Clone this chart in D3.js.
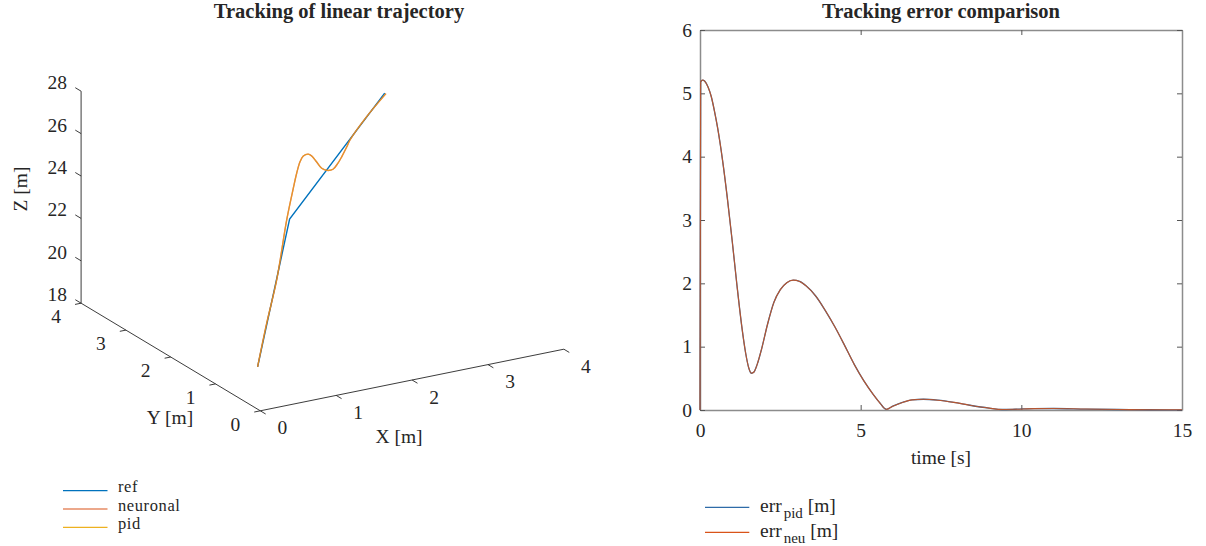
<!DOCTYPE html>
<html>
<head>
<meta charset="utf-8">
<script src="https://cdn.jsdelivr.net/npm/d3@7"></script>
<style>
  html,body{margin:0;padding:0;background:#fff;}
  svg{display:block;}
  text{font-family:"Liberation Serif","DejaVu Serif",serif;fill:#262626;}
</style>
</head>
<body>
<svg id="chart" width="1206" height="546"></svg>
<script>
// ---------------- DATA ----------------
// 3D trajectory (left panel)
const refX = [0, 1, 4];
const refY = [0.06, 1.04, 4];
const refZ = [20, 25, 25];

const neuX = [0, 0.206, 0.527, 0.849, 1.061, 1.17, 1.277, 1.383, 1.543, 1.653, 1.813, 1.974, 2.145, 2.338, 2.498, 2.617, 2.778, 2.884, 3.421, 4.04];
const neuY = [0.06, 0.206, 0.527, 0.849, 1.061, 1.17, 1.277, 1.383, 1.543, 1.653, 1.813, 1.974, 2.145, 2.338, 2.498, 2.617, 2.778, 2.884, 3.421, 4.04];
const neuZ = [20, 21.72, 23.12, 25.31, 26.38, 26.87, 27.2, 27.26, 27.03, 26.72, 26.12, 25.5, 25.06, 24.73, 24.70, 24.76, 24.9, 25.02, 25.05, 24.9];

const pidX = [0, 0.206, 0.527, 0.849, 1.061, 1.17, 1.277, 1.383, 1.543, 1.653, 1.813, 1.974, 2.145, 2.338, 2.498, 2.617, 2.778, 2.884, 3.421, 4.04];
const pidY = [0.06, 0.206, 0.527, 0.849, 1.061, 1.17, 1.277, 1.383, 1.543, 1.653, 1.813, 1.974, 2.145, 2.338, 2.498, 2.617, 2.778, 2.884, 3.421, 4.04];
const pidZ = [20, 21.72, 23.12, 25.31, 26.38, 26.87, 27.2, 27.26, 27.03, 26.72, 26.12, 25.5, 25.06, 24.73, 24.70, 24.76, 24.9, 25.02, 25.05, 24.9];

const xTicks3d = [0, 1, 2, 3, 4];
const yTicks3d = [0, 1, 2, 3, 4];
const zTicks3d = [18, 20, 22, 24, 26, 28];

// Tracking error (right panel)
const time   = [0, 0.02, 0.08, 0.15, 0.25, 0.35, 0.45, 0.55, 0.7, 0.85, 1.0, 1.15, 1.3, 1.42, 1.52, 1.6, 1.68, 1.78, 1.92, 2.1, 2.3, 2.5, 2.7, 2.9, 3.1, 3.3, 3.6, 3.9, 4.2, 4.5, 4.8, 5.1, 5.4, 5.6, 5.8, 6.0, 6.3, 6.6, 6.95, 7.4, 7.9, 8.4, 9.0, 9.4, 9.8, 10.4, 11.0, 12.0, 13.0, 14.0, 15.0];
const errPid = [0, 5.18, 5.21, 5.19, 5.10, 4.95, 4.72, 4.45, 3.95, 3.35, 2.68, 1.97, 1.32, 0.90, 0.66, 0.58, 0.60, 0.72, 0.97, 1.35, 1.70, 1.90, 2.01, 2.05, 2.03, 1.96, 1.80, 1.57, 1.31, 1.02, 0.72, 0.46, 0.24, 0.11, 0.01, 0.06, 0.12, 0.16, 0.17, 0.155, 0.12, 0.075, 0.03, 0.008, 0.012, 0.022, 0.024, 0.015, 0.008, 0.004, 0.003];
const errNeu = [0, 5.18, 5.21, 5.19, 5.10, 4.95, 4.72, 4.45, 3.95, 3.35, 2.68, 1.97, 1.32, 0.90, 0.66, 0.58, 0.60, 0.72, 0.97, 1.35, 1.70, 1.90, 2.01, 2.05, 2.03, 1.96, 1.80, 1.57, 1.31, 1.02, 0.72, 0.46, 0.24, 0.11, 0.01, 0.06, 0.12, 0.16, 0.17, 0.155, 0.12, 0.075, 0.03, 0.008, 0.012, 0.022, 0.024, 0.015, 0.008, 0.004, 0.003];

const xTicksErr = [0, 5, 10, 15];
const yTicksErr = [0, 1, 2, 3, 4, 5, 6];

const legend3d = ["ref", "neuronal", "pid"];
const colors3d = ["#0072BD", "#D95319", "#EDB120"];

// ---------------- DRAW ----------------
const FS = 19.5;   // tick/label font size
const LFS = 16.5;  // left legend font size
const TFS = 20.5;  // title font size
const svg = d3.select("#chart");
svg.append("rect").attr("width",1206).attr("height",546).attr("fill","#fff");

// ===== Left: 3D projection =====
const O  = [260.3, 410.8];
const VX = [303.6, -61.6];
const VY = [-179.2, -107.6];
const VZ = [0, -212];
const fx = d3.scaleLinear().domain([0, 4]).range([0, 1]);
const fy = d3.scaleLinear().domain([0, 4]).range([0, 1]);
const fz = d3.scaleLinear().domain([18, 28]).range([0, 1]);
function proj(x, y, z) {
  const a = fx(x), b = fy(y), c = fz(z);
  return [O[0] + a*VX[0] + b*VY[0] + c*VZ[0], O[1] + a*VX[1] + b*VY[1] + c*VZ[1]];
}
const g3 = svg.append("g");
const axCol = "#262626";
function seg(p, q, w) {
  g3.append("line").attr("x1",p[0]).attr("y1",p[1]).attr("x2",q[0]).attr("y2",q[1])
    .attr("stroke",axCol).attr("stroke-width",w||0.9);
}
seg(proj(0,0,18), proj(4,0,18));
seg(proj(0,0,18), proj(0,4,18));
seg(proj(0,4,18), proj(0,4,28));
xTicks3d.forEach(k => {
  const p = proj(k,0,18), q = proj(k,-0.12,18);
  seg(p,q);
  g3.append("text").attr("x",p[0]+22).attr("y",p[1]+23.5).attr("text-anchor","middle")
    .attr("font-size",FS).text(k);
});
yTicks3d.forEach(k => {
  const p = proj(0,k,18), q = proj(-0.08,k,18);
  seg(p,q);
  g3.append("text").attr("x",p[0]-25).attr("y",p[1]+19.7).attr("text-anchor","middle")
    .attr("font-size",FS).text(k);
});
zTicks3d.forEach(k => {
  const p = proj(0,4,k), q = proj(0,4.13,k);
  seg(p,q);
  g3.append("text").attr("x",67).attr("y",p[1]-2).attr("text-anchor","end")
    .attr("font-size",FS).text(k);
});
g3.append("text").attr("x",399).attr("y",443).attr("text-anchor","middle").attr("font-size",FS).text("X [m]");
g3.append("text").attr("x",170).attr("y",424).attr("text-anchor","middle").attr("font-size",FS).text("Y [m]");
g3.append("text").attr("transform","translate(27,189) rotate(-90)").attr("text-anchor","middle").attr("font-size",FS).text("Z [m]");
svg.append("text").attr("x",339).attr("y",18).attr("text-anchor","middle")
  .attr("font-size",TFS).attr("font-weight","bold").text("Tracking of linear trajectory");

const line3 = d3.line().x(d => d[0]).y(d => d[1]).curve(d3.curveCatmullRom.alpha(0.5));
const refPts = refX.map((x,i) => proj(x, refY[i], refZ[i]));
const neuPts = neuX.map((x,i) => proj(x, neuY[i], neuZ[i]));
const pidPts = pidX.map((x,i) => proj(x, pidY[i], pidZ[i]));
g3.append("path").attr("d", d3.line()(refPts)).attr("fill","none")
  .attr("stroke",colors3d[0]).attr("stroke-width",1.4);
g3.append("path").attr("d", line3(neuPts)).attr("fill","none")
  .attr("stroke",colors3d[1]).attr("stroke-width",1.4).attr("stroke-opacity",0.85);
g3.append("path").attr("d", line3(pidPts)).attr("fill","none")
  .attr("stroke",colors3d[2]).attr("stroke-width",1.2).attr("stroke-opacity",0.6);

legend3d.forEach((name,i) => {
  const y = 490.7 + i*18.3;
  svg.append("line").attr("x1",63).attr("x2",107.5).attr("y1",y).attr("y2",y)
    .attr("stroke",colors3d[i]).attr("stroke-width",1.2);
  svg.append("text").attr("x",118).attr("y",y+1.5).attr("font-size",LFS)
    .attr("letter-spacing",0.6).text(name);
});

// ===== Right: tracking error =====
const xS = d3.scaleLinear().domain([0, 15]).range([700, 1182]);
const yS = d3.scaleLinear().domain([0, 6]).range([410, 30]);
const gr = svg.append("g");
const fmt = d3.format("d");

function styleAxis(sel, showLabels) {
  sel.select(".domain").attr("stroke","#8c8c8c").attr("stroke-width",1.5);
  sel.selectAll(".tick line").attr("stroke","#555").attr("stroke-width",1);
  sel.selectAll(".tick text").attr("font-size",FS).attr("fill","#262626")
    .attr("font-family","Liberation Serif, serif");
  if (!showLabels) sel.selectAll(".tick text").remove();
}
const axB = gr.append("g").attr("transform","translate(0,410)")
  .call(d3.axisBottom(xS).tickValues(xTicksErr).tickFormat(fmt).tickSizeInner(-5).tickSizeOuter(0).tickPadding(13));
styleAxis(axB, true);
const axT = gr.append("g").attr("transform","translate(0,30)")
  .call(d3.axisTop(xS).tickValues(xTicksErr).tickSizeInner(-5).tickSizeOuter(0));
styleAxis(axT, false);
const axL = gr.append("g").attr("transform","translate(700,0)")
  .call(d3.axisLeft(yS).tickValues(yTicksErr).tickFormat(fmt).tickSizeInner(-5).tickSizeOuter(0).tickPadding(8));
styleAxis(axL, true);
const axR = gr.append("g").attr("transform","translate(1182,0)")
  .call(d3.axisRight(yS).tickValues(yTicksErr).tickSizeInner(-5).tickSizeOuter(0));
styleAxis(axR, false);

gr.append("text").attr("x",941).attr("y",464).attr("text-anchor","middle").attr("font-size",FS).text("time [s]");
svg.append("text").attr("x",941).attr("y",18).attr("text-anchor","middle")
  .attr("font-size",TFS).attr("font-weight","bold").text("Tracking error comparison");

const lineErr = d3.line().x((d,i) => xS(time[i])).y(d => yS(d)).curve(d3.curveMonotoneX);
gr.append("path").attr("d", lineErr(errPid)).attr("fill","none")
  .attr("stroke","#2E5E8E").attr("stroke-width",1.3);
gr.append("path").attr("d", lineErr(errNeu)).attr("fill","none")
  .attr("stroke","#D95319").attr("stroke-width",1.1).attr("stroke-opacity",0.8);

const legR = [
  {sub:"pid", color:"#2E6BA8", y:507.3},
  {sub:"neu", color:"#D95319", y:532.3}
];
legR.forEach(d => {
  const t = svg.append("text").attr("x",760).attr("y",d.y+4.5).attr("font-size",FS);
  svg.append("line").attr("x1",705).attr("x2",749.3).attr("y1",d.y).attr("y2",d.y)
    .attr("stroke",d.color).attr("stroke-width",1.2);
  t.append("tspan").text("err");
  t.append("tspan").attr("dx",2).attr("dy",6).attr("font-size",15).text(d.sub);
  t.append("tspan").attr("dy",-6).attr("font-size",FS).text(" [m]");
});
</script>
</body>
</html>
